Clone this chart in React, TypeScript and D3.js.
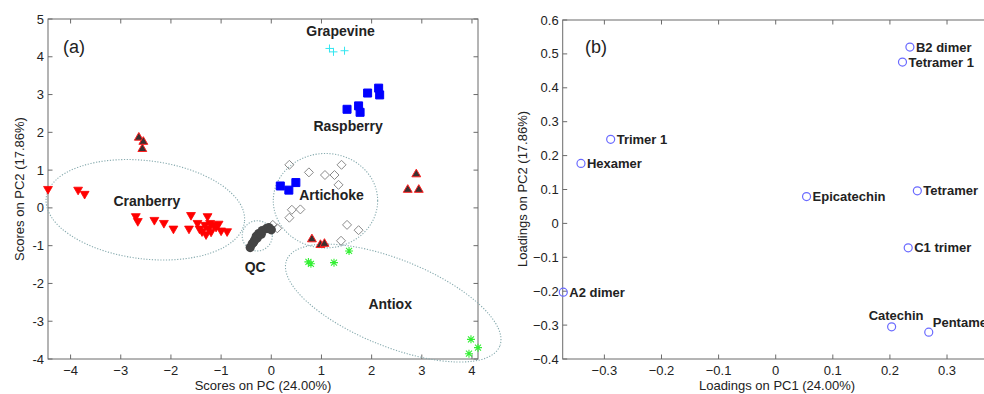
import React from 'react';
import * as d3 from 'd3';

// scores plot (a)
const cranberry: [number, number][] = [
  [-4.45, 0.5], [-3.85, 0.48], [-3.72, 0.37], [-2.7, -0.22], [-2.66, -0.35],
  [-2.33, -0.32], [-2.14, -0.4], [-1.95, -0.55], [-1.64, -0.55], [-1.6, -0.19],
  [-1.47, -0.4], [-1.43, -0.55], [-1.38, -0.62], [-1.3, -0.7], [-1.27, -0.22],
  [-1.25, -0.55], [-1.2, -0.63], [-1.15, -0.45], [-1.1, -0.5], [-1.05, -0.42],
  [-1.0, -0.6], [-0.88, -0.62], [-1.32, -0.45], [-1.22, -0.4],
];
const otherTri: [number, number][] = [
  [-2.64, 1.86], [-2.55, 1.75], [-2.57, 1.56],
  [2.89, 0.89], [2.72, 0.48], [2.94, 0.48],
  [0.81, -0.83], [0.98, -0.98], [1.06, -0.95],
];
const raspberry: [number, number][] = [
  [1.92, 3.04], [2.14, 3.17], [2.16, 2.99], [1.51, 2.61], [1.74, 2.7], [1.77, 2.53],
  [0.18, 0.58], [0.35, 0.47], [0.49, 0.67],
];
const grapevine: [number, number][] = [[1.16, 4.22], [1.24, 4.13], [1.46, 4.16]];
const artichoke: [number, number][] = [
  [0.36, 1.14], [0.75, 0.94], [1.07, 0.87], [1.26, 0.87], [1.4, 1.14], [1.34, 0.61],
  [0.41, -0.05], [0.58, -0.04], [0.36, -0.26], [1.51, -0.45], [1.74, -0.59],
  [1.39, -0.87], [0.03, -0.45], [0.12, -0.54],
];
const qc: [number, number][] = [
  [-0.42, -1.05], [-0.38, -0.95], [-0.35, -0.9], [-0.33, -0.85], [-0.3, -0.75],
  [-0.28, -0.8], [-0.25, -0.68], [-0.2, -0.7], [-0.18, -0.6], [-0.1, -0.55],
  [-0.05, -0.52], [0.0, -0.58],
];
const antiox: [number, number][] = [
  [0.74, -1.43], [0.79, -1.48], [1.25, -1.45], [1.55, -1.14],
  [3.98, -3.48], [4.12, -3.7], [3.94, -3.86],
];
// confidence ellipses: centre and half-axes in data units, tilt in degrees
const ellipses = [
  { cx: -2.51, cy: -0.05, rx: 1.99, ry: 1.3, angle: 7 },
  { cx: -0.28, cy: -0.74, rx: 0.3, ry: 0.4, angle: 0 },
  { cx: 1.08, cy: 0.19, rx: 1.04, ry: 1.25, angle: 0 },
  { cx: 2.43, cy: -2.52, rx: 2.29, ry: 1.15, angle: 22 },
];
const groupLabels: [string, number, number][] = [
  ['Grapevine', 1.38, 4.55], ['Raspberry', 1.53, 2.04], ['Cranberry', -2.48, 0.05],
  ['Artichoke', 1.2, 0.2], ['QC', -0.32, -1.7], ['Antiox', 2.37, -2.68],
];
const xTicksA = [-4, -3, -2, -1, 0, 1, 2, 3, 4];
const yTicksA = [-4, -3, -2, -1, 0, 1, 2, 3, 4, 5];

// loadings plot (b)
const compounds = ['B2 dimer', 'Tetramer 1', 'Tetramer', 'C1 trimer', 'Catechin', 'Pentamer',
  'Trimer 1', 'Hexamer', 'Epicatechin', 'A2 dimer'];
const pc1 = [0.235, 0.222, 0.248, 0.232, 0.203, 0.268, -0.289, -0.341, 0.054, -0.372];
const pc2 = [0.52, 0.476, 0.096, -0.072, -0.305, -0.321, 0.248, 0.177, 0.079, -0.203];
const xTicksB = [-0.3, -0.2, -0.1, 0, 0.1, 0.2, 0.3];
const yTicksB = [-0.4, -0.3, -0.2, -0.1, 0, 0.1, 0.2, 0.3, 0.4, 0.5, 0.6];

const FONT = 'Arial, "Liberation Sans", sans-serif';
const AXIS = '#6b6b6b';
const TXT = '#222';

const xa = d3.scaleLinear().domain([-4.45, 4.12]).range([48, 478]);
const ya = d3.scaleLinear().domain([-4, 5]).range([359, 19]);
const xb = d3.scaleLinear().domain([-0.373, 0.377]).range([562.7, 991]);
const yb = d3.scaleLinear().domain([-0.4, 0.6]).range([359, 20]);

const Frame: React.FC<{
  x: d3.ScaleLinear<number, number>; y: d3.ScaleLinear<number, number>;
  xt: number[]; yt: number[]; fx: (v: number) => string; fy: (v: number) => string;
}> = ({ x, y, xt, yt, fx, fy }) => {
  const [x0, x1] = x.range();
  const [y0, y1] = y.range();
  const tl = 4.5;
  return (
    <g>
      <rect x={x0} y={y1} width={x1 - x0} height={y0 - y1} fill="none" stroke={AXIS} strokeWidth={1} />
      {xt.map(t => (
        <g key={'x' + t}>
          <line x1={x(t)} x2={x(t)} y1={y0} y2={y0 - tl} stroke={AXIS} />
          <line x1={x(t)} x2={x(t)} y1={y1} y2={y1 + tl} stroke={AXIS} />
          <text x={x(t)} y={y0 + 16} textAnchor="middle" fontSize={13} fill={TXT} fontFamily={FONT}>{fx(t)}</text>
        </g>
      ))}
      {yt.map(t => (
        <g key={'y' + t}>
          <line x1={x0} x2={x0 + tl} y1={y(t)} y2={y(t)} stroke={AXIS} />
          <line x1={x1} x2={x1 - tl} y1={y(t)} y2={y(t)} stroke={AXIS} />
          <text x={x0 - 4} y={y(t) + 4.5} textAnchor="end" fontSize={13} fill={TXT} fontFamily={FONT}>{fy(t)}</text>
        </g>
      ))}
    </g>
  );
};

const tri = d3.symbol().type(d3.symbolTriangle).size(34)() as string;
const sq = 'M-4,-4H4V4H-4Z';
const dia = 'M0,-4.5L4.5,0L0,4.5L-4.5,0Z';

export default function App() {
  const signA = (v: number) => (v < 0 ? '\u2212' + Math.abs(v) : String(v));
  const dashA = (v: number) => String(v);
  const fmtB = (v: number) => (v === 0 ? '0' : d3.format('.1f')(v));
  return (
    <svg width={984} height={394} style={{ position: 'absolute', left: 0, top: 0, background: '#fff' }}>
      {/* panel (a) */}
      <Frame x={xa} y={ya} xt={xTicksA} yt={yTicksA} fx={signA} fy={dashA} />
      {ellipses.map((e, i) => {
        const cx = xa(e.cx), cy = ya(e.cy);
        return (
          <ellipse key={i} cx={cx} cy={cy} rx={xa(e.rx) - xa(0)} ry={ya(0) - ya(e.ry)}
            transform={`rotate(${e.angle},${cx},${cy})`}
            fill="none" stroke="#86aaae" strokeWidth={1.1} strokeDasharray="1.2,1.6" />
        );
      })}
      {cranberry.map(([a, b], i) => (
        <path key={'c' + i} d={tri} transform={`translate(${xa(a)},${ya(b)}) rotate(180)`} fill="#ff0000" stroke="#ff0000" strokeWidth={0.8} />
      ))}
      {otherTri.map(([a, b], i) => (
        <path key={'t' + i} d={tri} transform={`translate(${xa(a)},${ya(b)})`} fill="#3b3030" stroke="#ff2020" strokeWidth={1} />
      ))}
      {raspberry.map(([a, b], i) => (
        <path key={'r' + i} d={sq} transform={`translate(${xa(a)},${ya(b)})`} fill="#0000ff" stroke="#0000ff" />
      ))}
      {artichoke.map(([a, b], i) => (
        <path key={'a' + i} d={dia} transform={`translate(${xa(a)},${ya(b)})`} fill="none" stroke="#8a8a8a" strokeWidth={1} />
      ))}
      {qc.map(([a, b], i) => (
        <circle key={'q' + i} cx={xa(a)} cy={ya(b)} r={4.6} fill="#444" />
      ))}
      {grapevine.map(([a, b], i) => (
        <path key={'g' + i} d="M-4,0H4M0,-4V4" transform={`translate(${xa(a)},${ya(b)})`} stroke="#33e6f0" strokeWidth={1} />
      ))}
      {antiox.map(([a, b], i) => (
        <path key={'s' + i} d="M-4,0H4M0,-4V4M-3,-3L3,3M-3,3L3,-3" transform={`translate(${xa(a)},${ya(b)})`} stroke="#33f033" strokeWidth={1.1} />
      ))}
      {groupLabels.map(([t, a, b]) => (
        <text key={t} x={xa(a)} y={ya(b)} textAnchor="middle" fontSize={14} fontWeight="bold" fill={TXT} fontFamily={FONT}>{t}</text>
      ))}
      <text x={63} y={53} fontSize={18} fill={TXT} fontFamily={FONT}>(a)</text>
      <text x={263} y={390} textAnchor="middle" fontSize={13} fill={TXT} fontFamily={FONT}>Scores on PC  (24.00%)</text>
      <text transform="translate(24,189) rotate(-90)" textAnchor="middle" fontSize={13} fill={TXT} fontFamily={FONT}>Scores on PC2 (17.86%)</text>

      {/* panel (b) */}
      <Frame x={xb} y={yb} xt={xTicksB} yt={yTicksB} fx={fmtB} fy={fmtB} />
      {compounds.map((c, i) => {
        const cx = xb(pc1[i]), cy = yb(pc2[i]);
        let lx = cx + 6, ly = cy + 4.5;
        if (c === 'Catechin') { lx = cx - 23; ly = cy - 7; }
        if (c === 'Pentamer') { lx = cx + 4; ly = cy - 5; }
        return (
          <g key={c}>
            <circle cx={cx} cy={cy} r={4} fill="none" stroke="#6a6aff" strokeWidth={1.2} />
            <text x={lx} y={ly} fontSize={13} fontWeight="bold" fill={TXT} fontFamily={FONT}>{c}</text>
          </g>
        );
      })}
      <text x={585} y={53} fontSize={18} fill={TXT} fontFamily={FONT}>(b)</text>
      <text x={777} y={390} textAnchor="middle" fontSize={13} fill={TXT} fontFamily={FONT}>Loadings on PC1 (24.00%)</text>
      <text transform="translate(527,189) rotate(-90)" textAnchor="middle" fontSize={13} fill={TXT} fontFamily={FONT}>Loadings on PC2 (17.86%)</text>
    </svg>
  );
}
